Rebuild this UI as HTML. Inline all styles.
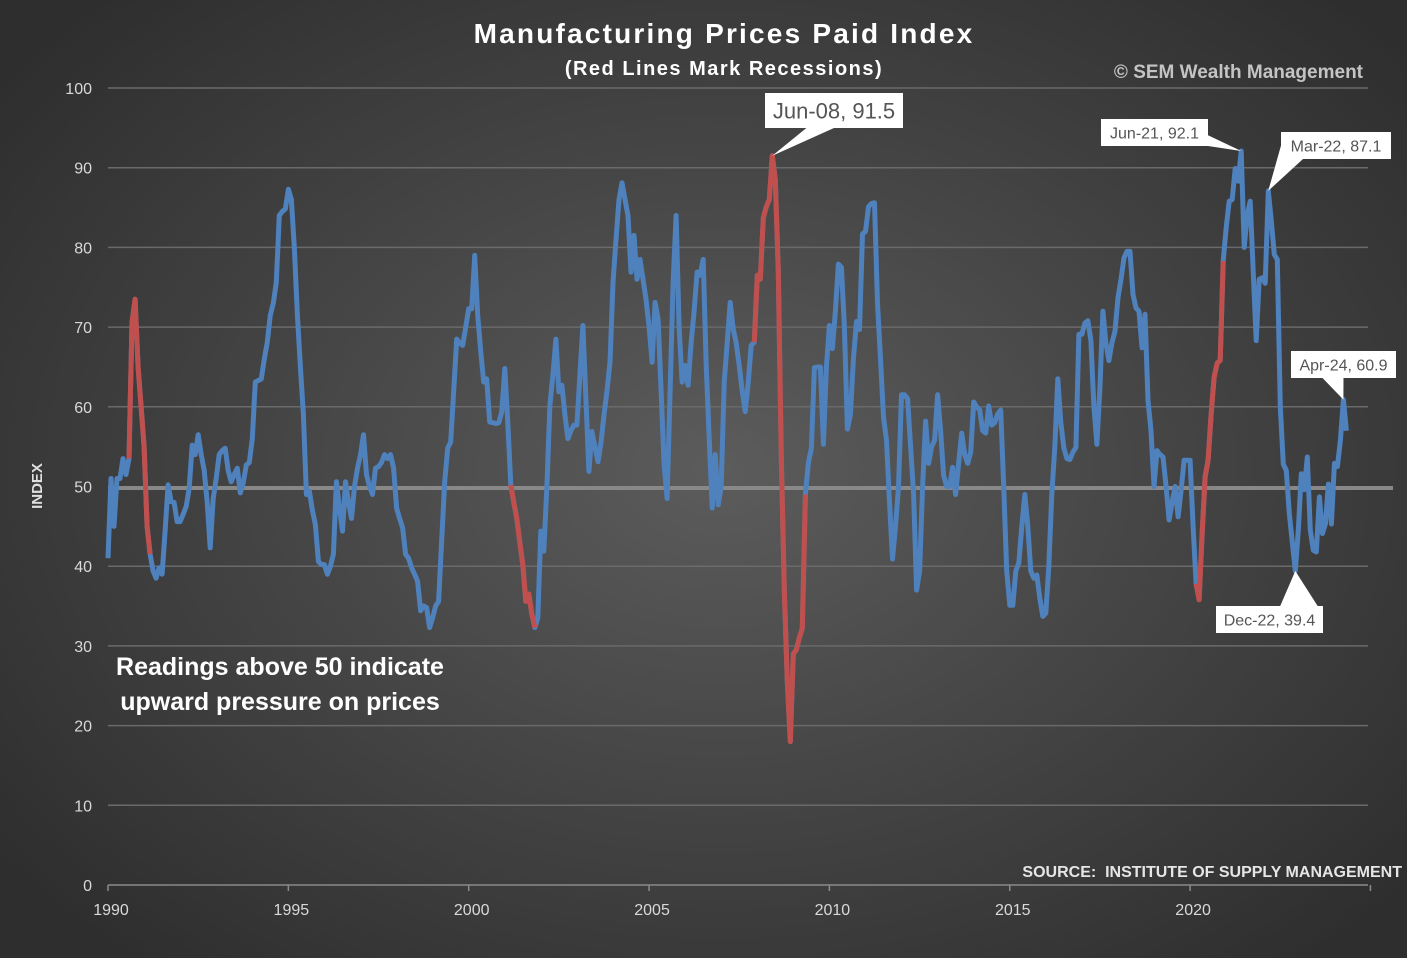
<!DOCTYPE html>
<html><head><meta charset="utf-8"><style>
html,body{margin:0;padding:0}
body{width:1407px;height:958px;overflow:hidden;font-family:"Liberation Sans",sans-serif;
background:radial-gradient(ellipse 900px 650px at 720px 470px,#5c5c5c 0%,#474747 45%,#2e2e2e 100%);}
svg{position:absolute;left:0;top:0}
</style></head><body>
<svg id="chart" width="1407" height="958">
<g id="grid"></g>
<g id="yticks"></g>
<g id="xticks"></g>
<line x1="108" y1="488" x2="1393" y2="488" stroke="#888" stroke-width="4"/>
<g id="series"></g>
<text x="724" y="43" text-anchor="middle" fill="#fff" font-weight="bold" font-size="28" letter-spacing="2.2">Manufacturing Prices Paid Index</text>
<text x="724" y="75" text-anchor="middle" fill="#fff" font-weight="bold" font-size="20" letter-spacing="1.5">(Red Lines Mark Recessions)</text>
<text x="1363" y="78" text-anchor="end" fill="#c4c4c4" font-weight="bold" font-size="19">© SEM Wealth Management</text>
<text transform="translate(42,486) rotate(-90)" text-anchor="middle" fill="#e0e0e0" font-weight="bold" font-size="15">INDEX</text>
<text x="280" y="675" text-anchor="middle" fill="#fff" font-weight="bold" font-size="25">Readings above 50 indicate</text>
<text x="280" y="710" text-anchor="middle" fill="#fff" font-weight="bold" font-size="25">upward pressure on prices</text>
<text x="1402" y="877" text-anchor="end" fill="#e6e6e6" font-weight="bold" font-size="16" xml:space="preserve">SOURCE:  INSTITUTE OF SUPPLY MANAGEMENT</text>
<g id="callouts"></g>
</svg>
<script>
const years=[1990,1995,2000,2005,2010,2015,2020];
const yTicks=[0,10,20,30,40,50,60,70,80,90,100];
const y1990=[41,51,45,51,51,53.5,51.5,53.5,70.6,73.5,65,60];
const y1991=[55,45,41.5,39.4,38.5,39.8,39,44.4,50.2,48.1,48,45.6];
const y1992=[45.6,46.5,47.5,49.8,55.2,54,56.5,54,52,48,42.3,48.5];
const y1993=[51,54,54.5,54.8,52,50.6,51.5,52.3,49.2,50.5,52.7,53];
const y1994=[56,63.1,63.3,63.5,66,68.1,71.5,73,75.6,84,84.5,84.8];
const y1995=[87.3,86,79.8,71.5,65,59,49,49.4,47,45.2,40.6,40.2];
const y1996=[40.2,39,40,41.5,50.6,47.3,44.4,50.6,48,46,50,52.3];
const y1997=[54,56.5,51.5,50,49,52.3,52.5,53,54,53.5,54,52.3];
const y1998=[47.3,46,44.8,41.5,41,39.8,39,38.1,34.4,35,34.8,32.3];
const y1999=[33.5,35,35.6,43,50.6,54.8,55.6,62,68.5,68,67.7,70];
const y2000=[72.3,72.3,79,71.5,67,63.1,63.5,58.1,58,57.9,58,59.4];
const y2001=[64.8,58,50.2,48,46,43,40.2,35.6,36.5,34,32.3,33.5];
const y2002=[44.4,41.9,50,60.2,64,68.5,61.9,62.7,59,56,57,57.7];
const y2003=[57.7,64,70.2,61,51.9,56.9,55,53.1,55.5,59,62,65.6];
const y2004=[75.6,81,86,88.1,86,84,76.9,81.5,76,78.5,76,73.5];
const y2005=[70,65.6,73.1,71,62,52.7,48.5,62,75.6,84,70,63.1];
const y2006=[65.2,62.7,68,72,76.9,76.5,78.5,65.2,56,47.3,54,47.7];
const y2007=[50,63.1,68,73.1,69.8,68,65.2,62,59.4,63,67.7,68.1];
const y2008=[76.5,76,83.7,85.1,86,91.5,88.5,77,53.5,37,25.5,18];
const y2009=[29,29.5,31,32.2,49,53,54.8,64.9,65,65,55.3,65];
const y2010=[70.2,67.3,72,77.9,77.5,70,57.2,59,66,70.7,69.7,81.7];
const y2011=[82,85.1,85.5,85.6,73,66,58.7,55.8,48,40.9,45,50];
const y2012=[61.5,61.5,61,55,49,37,39.4,50,58.2,52.9,55,55.8];
const y2013=[61.5,57,51.4,50,50,52.4,49,53,56.7,54,52.9,54.3];
const y2014=[60.6,60,59.6,57,56.7,60.1,57.7,58,59.1,59.6,50,39.4];
const y2015=[35.1,35.1,39.4,40.4,45,49,45,39.4,38.5,38.9,36,33.7];
const y2016=[34.1,40,49,55,63.5,58,54.8,53.5,53.4,54.3,54.9,69.1];
const y2017=[69.1,70.5,70.8,68.3,60,55.3,62.4,72,68,65.8,68,69.5];
const y2018=[73.7,76,78.7,79.5,79.5,74.1,72.4,72,67.4,71.6,60.8,57];
const y2019=[50,54.5,54,53.7,50,45.8,48,50,46.2,49.5,53.3,53.3];
const y2020=[53.3,45,37.8,35.8,44,51.2,53.3,59,63.7,65.5,65.8,78.3];
const y2021=[82.5,85.8,86,89.9,88.3,92.1,80,84,85.8,77,68.3,76];
const y2022=[76.2,75.5,87.1,83.3,79.1,78.5,60,52.8,52,46.6,43,39.4];
const y2023=[44.5,51.6,49.6,53.7,44.5,42,41.8,48.7,44.1,45.3,50.3,45.3];
const y2024=[52.9,52.5,55.8,60.9,57];
const recessionStart=[7,134,215,362];
const recessionEnd=[14,142,232,371];
const calloutLabels=["Jun-08, 91.5","Jun-21, 92.1","Mar-22, 87.1","Apr-24, 60.9","Dec-22, 39.4"];
const calloutMonths=[221,377,386,411,395];

const values=[].concat(y1990,y1991,y1992,y1993,y1994,y1995,y1996,y1997,y1998,y1999,y2000,y2001,y2002,y2003,y2004,y2005,y2006,y2007,y2008,y2009,y2010,y2011,y2012,y2013,y2014,y2015,y2016,y2017,y2018,y2019,y2020,y2021,y2022,y2023,y2024);
const NS="http://www.w3.org/2000/svg";
const X0=108,PXY=36.07,Y0=885,PYU=7.97;
function xm(m){return X0+m*PXY/12;}
function xy(yr){return X0+(yr-1990)*PXY;}
function yv(v){return Y0-v*PYU;}
function mk(t,a,p){const e=document.createElementNS(NS,t);for(const k in a)e.setAttribute(k,a[k]);p.appendChild(e);return e;}
const grid=document.getElementById('grid'),yt=document.getElementById('yticks'),xt=document.getElementById('xticks');
yTicks.forEach(v=>{
 if(v>0&&v!==50){const l=mk('line',{x1:108,x2:1368,y1:yv(v),y2:yv(v),stroke:'#6a6a6a','stroke-width':1.5},grid);
 
 }
 const t=mk('text',{x:92,y:yv(v)+6,'text-anchor':'end',fill:'#d9d9d9','font-size':16},yt);t.textContent=v;
 
 
});
const ax=mk('line',{x1:108,x2:1368,y1:885,y2:885,stroke:'#8a8a8a','stroke-width':1.5},xt);


years.concat([2025]).forEach(yr=>{
 const tk=mk('line',{x1:xy(yr),x2:xy(yr),y1:885,y2:891,stroke:'#8a8a8a','stroke-width':1.5},xt);
 
 
});
years.forEach(yr=>{
 const t=mk('text',{x:xy(yr)+3,y:915,'text-anchor':'middle',fill:'#d9d9d9','font-size':16},xt);t.textContent=yr;
 
 
});
const sg=document.getElementById('series');
function pathFor(a,b){let d='';for(let i=a;i<=b&&i<values.length;i++){d+=(i===a?'M':'L')+xm(i).toFixed(1)+','+yv(values[i]).toFixed(1);}return d;}
const blue=mk('path',{d:pathFor(0,values.length-1),fill:'none',stroke:'#4f81bd','stroke-width':5,'stroke-linejoin':'round'},sg);


recessionStart.forEach((s,i)=>{
 const r=mk('path',{d:pathFor(s,recessionEnd[i]),fill:'none',stroke:'#c0504d','stroke-width':5,'stroke-linejoin':'round'},sg);
 
 
});
const cg=document.getElementById('callouts');
const boxes=[[765,93,138,35,22,'b'],[1101,119,107,27,16,'r'],[1281,132,110,27,16,'l'],[1291,351,105,27,16,'b'],[1216,606,107,27,16,'t']];
calloutLabels.forEach((lab,i)=>{
 const m=calloutMonths[i],px=xm(m),py=yv(values[m]);
 const [bx,by,bw,bh,fs,side]=boxes[i];
 let p;
 if(side==='b'){p=[[bx+bw*0.3,by+bh],[bx+bw*0.5,by+bh],[px,py]];}
 else if(side==='r'){p=[[bx+bw,by+bh*0.6],[bx+bw,by+bh],[px,py]];}
 else if(side==='l'){p=[[bx,by+bh*0.5],[bx+bw*0.2,by+bh],[px,py]];}
 else {p=[[bx+bw*0.6,by],[bx+bw*0.95,by],[px,py]];}
 const tri=mk('polygon',{points:p.map(q=>q.join(',')).join(' '),fill:'#fff'},cg);
 
 
 const r=mk('rect',{x:bx,y:by,width:bw,height:bh,fill:'#fff'},cg);
 
 
 const t=mk('text',{x:bx+bw/2,y:by+bh/2+fs*0.36,'text-anchor':'middle',fill:'#555','font-size':fs},cg);t.textContent=lab;
 
 
});
</script>
</body></html>
